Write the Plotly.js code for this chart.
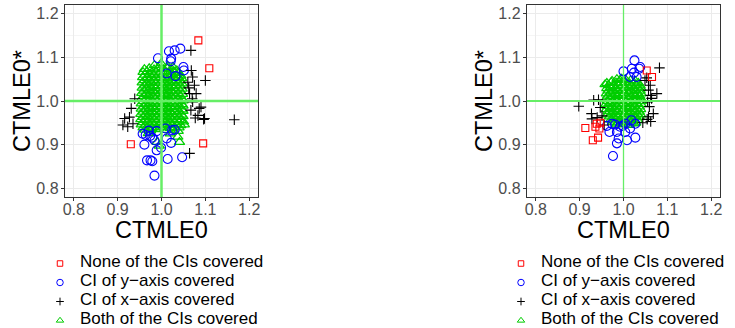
<!DOCTYPE html>
<html>
<head>
<meta charset="utf-8">
<script src="https://cdn.plot.ly/plotly-3.0.1.min.js"></script>
<style>html,body{margin:0;padding:0;background:#fff;}#chart{width:735px;height:328px;}</style>
</head>
<body>
<div id="chart"></div>
<script>
// ---------- categories / labels ----------
const categories = ['None of the CIs covered', 'CI of y\u2212axis covered', 'CI of x\u2212axis covered', 'Both of the CIs covered'];
const axisTitleX = 'CTMLE0';
const axisTitleY = 'CTMLE0*';
const tickValues = [0.8, 0.9, 1.0, 1.1, 1.2];
const tickLabels = ['0.8', '0.9', '1.0', '1.1', '1.2'];
const refValue = 1.0;

// ---------- left panel ----------
const leftNoneX = [1.084, 1.109, 0.930, 1.095];
const leftNoneY = [1.139, 1.075, 0.901, 0.903];

const leftYX = [1.043, 1.030, 1.017, 0.992, 1.022, 1.021, 1.050, 1.012, 1.032, 1.051,
  0.957, 0.961, 0.979, 0.984, 0.974, 0.989, 1.009, 1.024, 1.012, 1.022,
  0.999, 0.989, 0.967, 0.975, 0.979, 1.014, 1.047, 0.984, 0.971, 0.964, 1.030];
const leftYY = [1.120, 1.116, 1.114, 1.098, 1.097, 1.091, 1.078, 1.063, 1.057, 1.070,
  0.925, 0.900, 0.916, 0.910, 0.920, 0.931, 0.937, 0.933, 0.914, 0.904,
  0.893, 0.887, 0.864, 0.864, 0.862, 0.867, 0.871, 0.829, 0.932, 0.922, 0.934];

const leftXX = [1.067, 1.071, 1.060, 1.075, 1.100, 1.064, 1.079, 1.068, 1.067, 1.086,
  1.096, 1.077, 1.090, 1.098, 1.083, 1.166, 1.064, 1.071, 0.931, 0.916,
  0.912, 0.923, 0.935, 0.927, 0.939, 1.062, 1.070];
const leftXY = [1.116, 1.055, 1.043, 1.036, 1.047, 1.017, 1.017, 1.070, 0.979, 0.983,
  0.958, 0.961, 0.986, 0.960, 0.967, 0.957, 0.880, 0.998, 0.983, 0.960,
  0.945, 0.941, 0.948, 0.963, 1.005, 1.030, 1.005];

const leftBothX = [
  0.984, 0.999, 1.014, 1.026,
  0.961, 0.972, 0.983, 0.993, 1.004, 1.013, 1.024, 1.035,
  0.958, 0.967, 0.978, 0.988, 0.998, 1.009, 1.019, 1.029, 1.040,
  0.962, 0.973, 0.983, 0.993, 1.003, 1.014, 1.024, 1.034, 1.044,
  0.957, 0.967, 0.978, 0.988, 0.998, 1.008, 1.019, 1.029, 1.039, 1.046,
  0.961, 0.972, 0.982, 0.993, 1.003, 1.013, 1.023, 1.034, 1.043,
  0.956, 0.966, 0.977, 0.987, 0.998, 1.008, 1.018, 1.028, 1.038, 1.047,
  0.961, 0.971, 0.982, 0.992, 1.002, 1.013, 1.023, 1.033, 1.043,
  0.956, 0.966, 0.976, 0.987, 0.997, 1.007, 1.018, 1.028, 1.038, 1.047,
  0.960, 0.971, 0.981, 0.992, 1.002, 1.012, 1.022, 1.033, 1.043,
  0.955, 0.965, 0.976, 0.986, 0.996, 1.007, 1.017, 1.027, 1.038, 1.048,
  0.960, 0.970, 0.981, 0.991, 1.001, 1.012, 1.022, 1.032, 1.043,
  0.955, 0.965, 0.975, 0.986, 0.996, 1.006, 1.017, 1.027, 1.037, 1.048,
  0.959, 0.970, 0.980, 0.990, 1.001, 1.011, 1.021, 1.032, 1.042, 1.049,
  0.954, 0.964, 0.975, 0.985, 0.995, 1.006, 1.016, 1.026, 1.037, 1.047,
  0.959, 0.969, 0.980, 0.990, 1.000, 1.011, 1.021, 1.031, 1.042, 1.049,
  0.954, 0.964, 0.974, 0.985, 0.995, 1.005, 1.016, 1.026, 1.036, 1.047,
  0.958, 0.969, 0.979, 0.989, 1.000, 1.010, 1.020, 1.031, 1.041, 1.049,
  0.953, 0.963, 0.974, 0.984, 0.994, 1.005, 1.015, 1.025, 1.036, 1.046,
  0.958, 0.968, 0.979, 0.989, 0.999, 1.010, 1.020, 1.030, 1.041, 1.049,
  0.953, 0.963, 0.973, 0.984, 0.994, 1.004, 1.015, 1.025, 1.035, 1.045,
  0.957, 0.968, 0.978, 0.988, 0.999, 1.009, 1.019, 1.030, 1.040, 1.050,
  0.954, 0.963, 0.973, 0.983, 0.994, 1.004, 1.014, 1.025, 1.035, 1.044,
  0.958, 0.968, 0.978, 0.989, 0.999, 1.009, 1.020, 1.030, 1.040,
  0.962, 0.975, 0.987, 1.012, 1.027, 1.038,
  1.037, 1.041, 0.995, 0.990, 1.052, 0.970, 1.020];
const leftBothY = [
  1.082, 1.086, 1.080, 1.078,
  1.073, 1.075, 1.072, 1.076, 1.073, 1.075, 1.072, 1.070,
  1.066, 1.068, 1.065, 1.067, 1.066, 1.068, 1.065, 1.067, 1.064,
  1.060, 1.061, 1.059, 1.062, 1.060, 1.058, 1.061, 1.059, 1.058,
  1.054, 1.052, 1.055, 1.053, 1.055, 1.052, 1.054, 1.053, 1.055, 1.052,
  1.047, 1.049, 1.046, 1.048, 1.047, 1.049, 1.046, 1.048, 1.046,
  1.042, 1.040, 1.043, 1.041, 1.042, 1.040, 1.043, 1.041, 1.042, 1.040,
  1.035, 1.037, 1.034, 1.036, 1.035, 1.037, 1.034, 1.036, 1.035,
  1.030, 1.028, 1.031, 1.029, 1.030, 1.028, 1.031, 1.029, 1.030, 1.028,
  1.023, 1.025, 1.022, 1.024, 1.023, 1.025, 1.022, 1.024, 1.023,
  1.018, 1.016, 1.019, 1.017, 1.018, 1.016, 1.019, 1.017, 1.018, 1.016,
  1.011, 1.013, 1.010, 1.012, 1.011, 1.013, 1.010, 1.012, 1.011,
  1.006, 1.004, 1.007, 1.005, 1.006, 1.004, 1.007, 1.005, 1.006, 1.004,
  0.999, 1.001, 0.998, 1.000, 0.999, 1.001, 0.998, 1.000, 0.999, 1.001,
  0.994, 0.992, 0.995, 0.993, 0.994, 0.992, 0.995, 0.993, 0.994, 0.992,
  0.987, 0.989, 0.986, 0.988, 0.987, 0.989, 0.986, 0.988, 0.987, 0.989,
  0.982, 0.980, 0.983, 0.981, 0.982, 0.980, 0.983, 0.981, 0.982, 0.980,
  0.975, 0.977, 0.974, 0.976, 0.975, 0.977, 0.974, 0.976, 0.975, 0.977,
  0.970, 0.968, 0.971, 0.969, 0.970, 0.968, 0.971, 0.969, 0.970, 0.968,
  0.963, 0.965, 0.962, 0.964, 0.963, 0.965, 0.962, 0.964, 0.963, 0.965,
  0.958, 0.956, 0.959, 0.957, 0.958, 0.956, 0.959, 0.957, 0.958, 0.956,
  0.951, 0.953, 0.950, 0.952, 0.951, 0.953, 0.950, 0.952, 0.951, 0.953,
  0.946, 0.944, 0.947, 0.945, 0.946, 0.944, 0.947, 0.945, 0.946, 0.944,
  0.939, 0.941, 0.938, 0.940, 0.939, 0.941, 0.938, 0.940, 0.939,
  0.934, 0.932, 0.935, 0.933, 0.934, 0.931,
  0.918, 0.906, 0.897, 0.906, 0.946, 0.926, 0.925];

// ---------- right panel ----------
const rightNoneX = [1.053, 1.065, 0.913, 0.930, 0.942, 0.939, 0.947, 0.936, 0.945];
const rightNoneY = [1.070, 1.055, 0.938, 0.910, 0.916, 0.948, 0.950, 0.941, 0.937];

const rightYX = [1.025, 1.038, 1.000, 1.019, 1.024, 1.036, 1.015, 1.030,
  0.974, 0.968, 0.985, 0.992, 1.004, 1.018, 1.027, 1.015, 1.004, 0.989,
  1.008, 0.985, 1.027, 0.976, 0.962, 0.981, 0.998];
const rightYY = [1.093, 1.078, 1.068, 1.074, 1.065, 1.074, 1.055, 1.055,
  0.948, 0.929, 0.929, 0.941, 0.948, 0.956, 0.948, 0.937, 0.929, 0.914,
  0.910, 0.903, 0.916, 0.874, 0.943, 0.946, 0.943];

const rightXX = [1.082, 0.898, 0.927, 0.932, 0.943, 0.947, 0.951, 0.940, 0.928, 0.956,
  1.057, 1.061, 1.057, 1.062, 1.076, 1.064, 1.055, 1.059, 1.068, 1.057,
  1.054, 1.062, 1.044, 1.049, 1.053];
const rightXY = [1.076, 0.988, 0.971, 1.002, 1.003, 0.985, 0.966, 0.962, 0.959, 0.945,
  1.047, 1.036, 1.025, 1.013, 1.017, 1.006, 0.998, 0.987, 0.971, 0.964,
  0.958, 0.953, 0.950, 1.047, 1.053];

const rightBothX = [
  0.992, 1.004, 1.016, 1.027,
  0.962, 0.972, 0.983, 0.994, 1.004, 1.014, 1.024, 1.034,
  0.966, 0.977, 0.988, 0.998, 1.009, 1.019, 1.029, 1.038,
  0.962, 0.972, 0.982, 0.993, 1.003, 1.013, 1.024, 1.034, 1.040,
  0.965, 0.976, 0.986, 0.997, 1.007, 1.017, 1.028, 1.038,
  0.961, 0.971, 0.981, 0.992, 1.002, 1.012, 1.023, 1.033, 1.040,
  0.964, 0.975, 0.986, 0.996, 1.006, 1.017, 1.027, 1.037,
  0.960, 0.970, 0.980, 0.991, 1.001, 1.011, 1.022, 1.032, 1.040,
  0.963, 0.974, 0.985, 0.995, 1.005, 1.016, 1.026, 1.036, 1.041,
  0.960, 0.970, 0.980, 0.990, 1.000, 1.011, 1.021, 1.031, 1.040,
  0.963, 0.974, 0.984, 0.994, 1.005, 1.015, 1.025, 1.036,
  0.961, 0.970, 0.980, 0.990, 1.000, 1.010, 1.021, 1.031, 1.039,
  0.965, 0.975, 0.985, 0.996, 1.006, 1.016, 1.027, 1.036,
  0.963, 0.972, 0.982, 0.992, 1.002, 1.012, 1.022, 1.032, 1.039,
  0.968, 0.978, 0.988, 0.998, 1.008, 1.018, 1.028, 1.036,
  0.971, 0.982, 0.992, 1.002, 1.013, 1.023, 1.032,
  0.976, 0.987, 0.997, 1.008, 1.018, 1.028,
  0.984, 0.998, 1.012, 1.024,
  0.958, 0.974, 0.985, 0.996];
const rightBothY = [
  1.048, 1.050, 1.047, 1.046,
  1.041, 1.043, 1.042, 1.041, 1.043, 1.040, 1.042, 1.041,
  1.036, 1.034, 1.037, 1.035, 1.036, 1.034, 1.037, 1.035,
  1.029, 1.031, 1.028, 1.030, 1.029, 1.031, 1.028, 1.030, 1.029,
  1.024, 1.022, 1.025, 1.023, 1.024, 1.022, 1.025, 1.023,
  1.017, 1.019, 1.016, 1.018, 1.017, 1.019, 1.016, 1.018, 1.017,
  1.012, 1.010, 1.013, 1.011, 1.012, 1.010, 1.013, 1.011,
  1.005, 1.007, 1.004, 1.006, 1.005, 1.007, 1.004, 1.006, 1.005,
  1.000, 0.998, 1.001, 0.999, 1.000, 0.998, 1.001, 0.999, 1.000,
  0.993, 0.995, 0.992, 0.994, 0.993, 0.995, 0.992, 0.994, 0.993,
  0.988, 0.986, 0.989, 0.987, 0.988, 0.986, 0.989, 0.987,
  0.981, 0.983, 0.980, 0.982, 0.981, 0.983, 0.980, 0.982, 0.981,
  0.976, 0.974, 0.977, 0.975, 0.976, 0.974, 0.977, 0.975,
  0.969, 0.971, 0.968, 0.970, 0.969, 0.971, 0.968, 0.970, 0.969,
  0.964, 0.962, 0.965, 0.963, 0.964, 0.962, 0.965, 0.963,
  0.957, 0.959, 0.956, 0.958, 0.957, 0.959, 0.956,
  0.952, 0.950, 0.953, 0.951, 0.952, 0.950,
  0.946, 0.947, 0.945, 0.948,
  1.038, 1.046, 1.050, 1.051];

// ---------- styles ----------
const colors = ['#ff0000', '#0000ff', '#000000', '#00cd00'];
const symbols = ['square-open', 'circle-open', 'cross-thin-open', 'triangle-up-open'];
const sizes = [7, 9, 7.5, 9];
const lineWidths = [1.1, 1.1, 1.1, 1.25];
const legendSizes = [5.5, 6.5, 5.5, 6.5];

function mk(x, y, k, panel) {
  return {
    type: 'scatter', mode: 'markers', x: x, y: y,
    xaxis: panel === 1 ? 'x' : 'x2', yaxis: panel === 1 ? 'y' : 'y2',
    name: categories[k], showlegend: false, hoverinfo: 'skip',
    marker: { symbol: symbols[k], size: sizes[k], color: colors[k],
      line: { color: colors[k], width: lineWidths[k] } }
  };
}
// legend-only entries (no marks in the plot area)
function lg(k, panel) {
  return {
    type: 'scatter', mode: 'markers', x: [null], y: [null],
    xaxis: panel === 1 ? 'x' : 'x2', yaxis: panel === 1 ? 'y' : 'y2',
    name: '<span style="font-size:17px">' + categories[k] + '</span>',
    legend: panel === 1 ? 'legend' : 'legend2', legendrank: k + 1,
    showlegend: true, hoverinfo: 'skip',
    marker: { symbol: symbols[k], size: legendSizes[k], color: colors[k],
      line: { color: colors[k], width: 1 } }
  };
}

const traces = [
  mk(leftBothX, leftBothY, 3, 1),
  mk(leftYX, leftYY, 1, 1),
  mk(leftXX, leftXY, 2, 1),
  mk(leftNoneX, leftNoneY, 0, 1),
  mk(rightBothX, rightBothY, 3, 2),
  mk(rightYX, rightYY, 1, 2),
  mk(rightXX, rightXY, 2, 2),
  mk(rightNoneX, rightNoneY, 0, 2),
  lg(0, 1), lg(1, 1), lg(2, 1), lg(3, 1),
  lg(0, 2), lg(1, 2), lg(2, 2), lg(3, 2)
];

const W = 735, H = 328;
const PW = 193;
const fontFam = 'Liberation Sans, Arial, sans-serif';
function common() {
  return {
    range: [0.78, 1.22],
    tickmode: 'array', tickvals: tickValues, ticktext: tickLabels,
    ticks: 'outside', ticklen: 3, tickwidth: 1, tickcolor: '#333333',
    tickfont: { family: fontFam, size: 16, color: '#4d4d4d' },
    showgrid: true, gridcolor: '#ebebeb', gridwidth: 1,
    minor: { tickmode: 'linear', tick0: 0.75, dtick: 0.05, showgrid: true, gridcolor: '#f3f3f3', gridwidth: 0.8 },
    showline: true, mirror: true, linecolor: '#333333', linewidth: 1.2, zeroline: false,
    automargin: false
  };
}
function xax(d0, anchor) {
  return Object.assign(common(), { domain: [d0 / W, (d0 + PW) / W], anchor: anchor, ticklabelstandoff: -5 });
}
function yax(anchor) {
  return Object.assign(common(), { domain: [1 - 197 / H, 1 - 5 / H], anchor: anchor, ticklabelstandoff: -1 });
}
function titles(xr, yr) {
  const f = { family: fontFam, size: 23.5, color: '#000' };
  return [
    { text: axisTitleX, xref: xr + ' domain', x: 0.5, xanchor: 'center', yref: 'paper', y: 1 - 230 / H, yanchor: 'middle', showarrow: false, borderpad: 0, font: f },
    { text: axisTitleY, xref: xr + ' domain', x: -43 / PW, xanchor: 'center', yref: yr + ' domain', y: 0.5, yanchor: 'middle', textangle: -90, showarrow: false, borderpad: 0, font: f }
  ];
}
const lineCol = '#66ee66';
function refLines(xr, yr, wv, wh) {
  return [
    { type: 'line', xref: xr, yref: yr + ' domain', x0: refValue, x1: refValue, y0: 0, y1: 1, layer: 'above', line: { color: lineCol, width: wv } },
    { type: 'line', xref: xr + ' domain', yref: yr, x0: 0, x1: 1, y0: refValue, y1: refValue, layer: 'above', line: { color: lineCol, width: wh } }
  ];
}
function leg(xpx) {
  return {
    x: xpx / W, xanchor: 'left', y: 1 - 249 / H, yanchor: 'top',
    font: { family: fontFam, size: 10, color: '#000' },
    bgcolor: 'rgba(0,0,0,0)', borderwidth: 0, traceorder: 'normal', itemclick: false
  };
}

const layout = {
  width: W, height: H, margin: { l: 0, r: 0, t: 0, b: 0, autoexpand: false },
  paper_bgcolor: '#fff', plot_bgcolor: '#fff',
  font: { family: fontFam },
  showlegend: true,
  xaxis: xax(65, 'y'), yaxis: yax('x'),
  xaxis2: xax(527, 'y2'), yaxis2: yax('x2'),
  legend: leg(40), legend2: leg(501),
  annotations: titles('x', 'y').concat(titles('x2', 'y2')),
  shapes: refLines('x', 'y', 2.5, 2.5).concat(refLines('x2', 'y2', 1.3, 2.2))
};

Plotly.newPlot('chart', traces, layout, { staticPlot: true, displayModeBar: false });
</script>
</body>
</html>
